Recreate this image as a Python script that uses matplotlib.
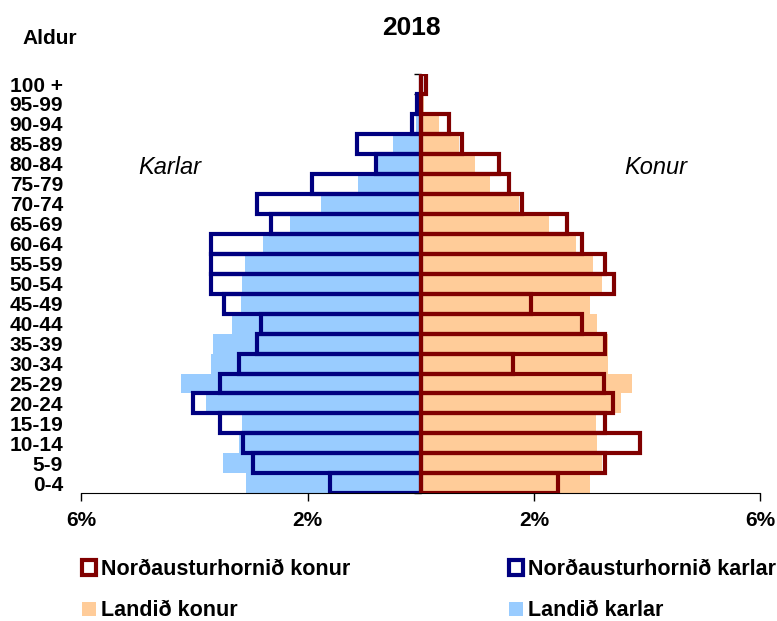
import numpy as np
import matplotlib
matplotlib.use("Agg")
import matplotlib.pyplot as plt
import matplotlib.transforms as mtransforms

plt.rcParams['font.family'] = ['Liberation Sans', 'DejaVu Sans']

# Age groups, bottom to top
ages = ['0-4', '5-9', '10-14', '15-19', '20-24', '25-29', '30-34', '35-39',
        '40-44', '45-49', '50-54', '55-59', '60-64', '65-69', '70-74',
        '75-79', '80-84', '85-89', '90-94', '95-99', '100 +']

# Share of population in %
na_konur = [2.42, 3.25, 3.88, 3.25, 3.40, 3.24, 1.62, 3.25, 2.84, 1.95, 3.41,
            3.25, 2.84, 2.59, 1.78, 1.55, 1.39, 0.72, 0.49, 0.0, 0.10]
na_karlar = [1.60, 2.96, 3.14, 3.54, 4.02, 3.54, 3.21, 2.89, 2.82, 3.47, 3.70,
             3.70, 3.70, 2.65, 2.89, 1.92, 0.79, 1.12, 0.16, 0.07, 0.0]
landid_konur = [2.99, 3.21, 3.12, 3.10, 3.53, 3.73, 3.30, 3.31, 3.11, 2.99, 3.20,
                3.05, 2.74, 2.27, 1.74, 1.22, 0.96, 0.68, 0.33, 0.05, 0.02]
landid_karlar = [3.09, 3.50, 3.22, 3.16, 3.80, 4.24, 3.71, 3.68, 3.34, 3.18, 3.16,
                 3.10, 2.78, 2.31, 1.76, 1.11, 0.77, 0.50, 0.08, 0.03, 0.01]

xticks = [-6, -2, 2, 6]
xticklabels = ['6%', '2%', '2%', '6%']

fig = plt.figure(figsize=(7.77, 6.21), dpi=100)
ax = fig.add_axes([0.1046, 0.2056, 0.874, 0.6752])

y = np.arange(len(ages))

# filled bars for the whole country (behind)
lk = ax.barh(y, landid_konur, height=1.0, color='#FFCC99', zorder=1,
             label='Landið konur')
lka = ax.barh(y, -np.array(landid_karlar), height=1.0, color='#99CCFF', zorder=1,
              label='Landið karlar')
# outlined bars for Norðausturhornið (front)
nka = ax.barh(y, -np.array(na_karlar), height=1.0, facecolor='none',
              edgecolor='#000080', linewidth=3, zorder=2,
              label='Norðausturhornið karlar')
nk = ax.barh(y, na_konur, height=1.0, facecolor='none', edgecolor='#800000',
             linewidth=3, zorder=3, label='Norðausturhornið konur')

ax.set_xlim(-6, 6)
ax.set_ylim(-0.5, len(ages) - 0.5)

# axis lines
ax.spines['top'].set_visible(False)
ax.spines['right'].set_visible(False)
ax.spines['left'].set_position(('data', 0))
ax.spines['left'].set_zorder(0)
ax.set_yticks(np.arange(len(ages) + 1) - 0.5)
ax.set_yticklabels([])
ax.tick_params(axis='y', length=5, width=1, direction='out')
ax.set_xticks(xticks)
ax.set_xticklabels(xticklabels, fontsize=15, fontweight='bold')
ax.tick_params(axis='x', length=6, width=1, direction='out', pad=7)

# age labels on the left edge
trans = mtransforms.blended_transform_factory(fig.transFigure, ax.transData)
for i, a in enumerate(ages):
    ax.text(0.081, i - 0.1, a, transform=trans, ha='right', va='center',
            fontsize=15, fontweight='bold')

fig.text(0.064, 0.938, 'Aldur', ha='center', va='center', fontsize=15,
         fontweight='bold')
fig.text(0.530, 0.955, '2018', ha='center', va='center', fontsize=19,
         fontweight='bold')

ax.text(-4.43, 15.8, 'Karlar', ha='center', va='center', fontsize=17,
        style='italic')
ax.text(4.16, 15.8, 'Konur', ha='center', va='center', fontsize=17,
        style='italic')

fig.legend(handles=[nk, lk, nka, lka],
           labels=['Norðausturhornið konur', 'Landið konur',
                   'Norðausturhornið karlar', 'Landið karlar'],
           loc='upper left', bbox_to_anchor=(0.106, 0.100), ncol=2,
           frameon=False, borderpad=0, borderaxespad=0,
           handlelength=0.65, handleheight=0.65, handletextpad=0.2,
           columnspacing=7.4, labelspacing=0.95,
           prop={'size': 15.5, 'weight': 'bold'})

fig.savefig('out.png', dpi=100)
